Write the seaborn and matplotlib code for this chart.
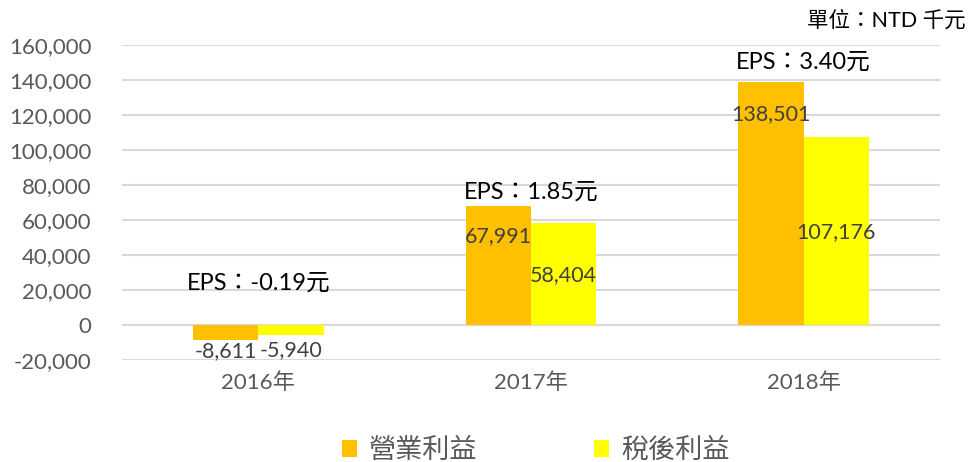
import matplotlib
matplotlib.use("Agg")
import matplotlib.pyplot as plt
import seaborn as sns
import pandas as pd

years = ["2016年", "2017年", "2018年"]
series = ["營業利益", "稅後利益"]
operating_income = [-8611, 67991, 138501]
net_income = [-5940, 58404, 107176]
eps_labels = ["EPS：-0.19元", "EPS：1.85元", "EPS：3.40元"]
eps_values_y = [24000, 76000, 150000]
# label offset below bar end (points), tuned to match the original placement
label_offsets = {"營業利益": [-8, -22, -23], "稅後利益": [-11, -38, -68]}

df = pd.DataFrame({
    "year": years * 2,
    "series": [series[0]] * 3 + [series[1]] * 3,
    "value": operating_income + net_income,
})

sns.set_theme(style="white")
plt.rcParams["font.family"] = ["Lato", "Noto Sans CJK TC", "DejaVu Sans"]

fig = plt.figure(figsize=(9.69, 4.62), dpi=100)
ax = fig.add_axes([0.126, 0.221, 0.844, 0.682])
sns.barplot(data=df, x="year", y="value", hue="series", palette=["#FFC000", "#FFFF00"],
            width=0.48, gap=0, saturation=1, linewidth=0, ax=ax, legend=True)

ax.set_ylim(-20000, 160000)
ax.set_xlim(-0.5, 2.5)
ax.set_yticks(range(-20000, 160001, 20000))
ax.yaxis.set_major_formatter(matplotlib.ticker.FuncFormatter(lambda v, p: f"{int(v):,}"))
ax.grid(axis="y", color="#D9D9D9", linewidth=1.5)
ax.set_axisbelow(True)
for s in ax.spines.values():
    s.set_visible(False)
ax.tick_params(axis="both", length=0, labelcolor="#595959")
ax.tick_params(axis="y", labelsize=16, pad=22)
ax.tick_params(axis="x", labelsize=16, pad=9)
ax.set_xlabel("")
ax.set_ylabel("")

for container, name in zip(ax.containers, series):
    for bar, off in zip(container, label_offsets[name]):
        h = bar.get_height()
        ax.annotate(f"{int(round(h)):,}", (bar.get_x() + bar.get_width() / 2, h),
                    xytext=(0, off), textcoords="offset points", ha="center", va="center",
                    fontsize=15.5, color="#404040")

for i, (txt, yv) in enumerate(zip(eps_labels, eps_values_y)):
    ax.text(i, yv, txt, ha="center", va="center", fontsize=17, color="#000000")

fig.text(0.997, 0.955, "單位：NTD 千元", ha="right", va="center", fontsize=15.5, color="#000000")

handles, labels = ax.get_legend_handles_labels()
ax.legend_.remove()
fig.legend(handles, labels, loc="center", bbox_to_anchor=(0.553, 0.025), ncol=2, frameon=False,
           fontsize=19.5, handlelength=0.55, handleheight=0.55, handletextpad=0.45, columnspacing=4.3,
           labelcolor="#595959")

fig.savefig("out.png", dpi=100)
